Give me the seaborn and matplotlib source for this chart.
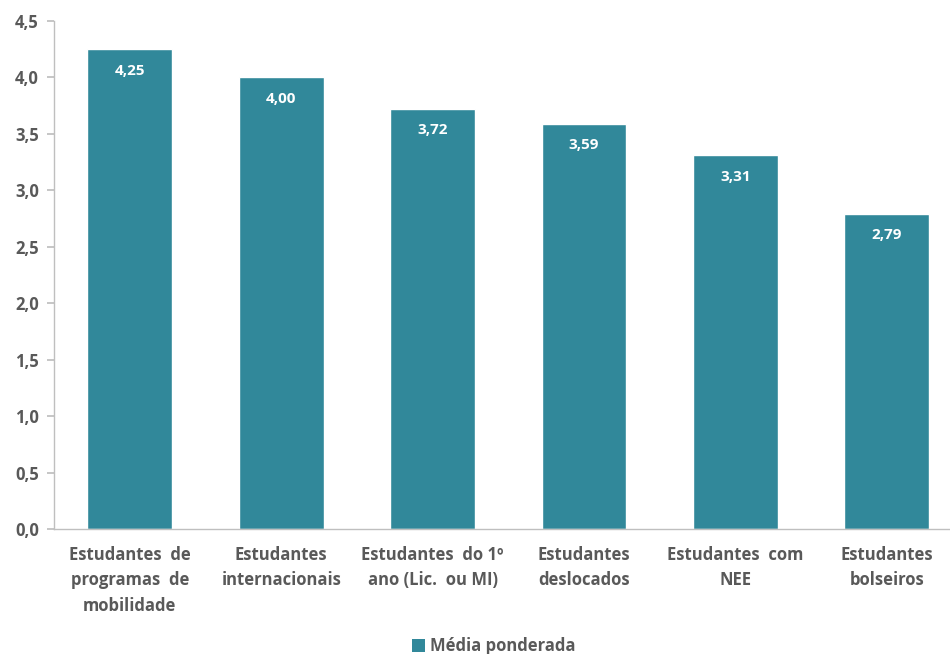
import matplotlib
matplotlib.use("Agg")
import matplotlib.pyplot as plt
import seaborn as sns
import pandas as pd
from matplotlib.patches import Patch

categories = ["Estudantes  de\nprogramas  de\nmobilidade",
              "Estudantes\ninternacionais",
              "Estudantes  do 1º\nano (Lic.  ou MI)",
              "Estudantes\ndeslocados",
              "Estudantes  com\nNEE",
              "Estudantes\nbolseiros"]
values = [4.25, 4.00, 3.72, 3.59, 3.31, 2.79]
yticks = [0.0, 0.5, 1.0, 1.5, 2.0, 2.5, 3.0, 3.5, 4.0, 4.5]
series_name = "Média ponderada"

color = "#31889A"
grey = "#595959"

sns.set_theme(style="white")
plt.rcParams['font.family'] = ['Open Sans', 'DejaVu Sans']

df = pd.DataFrame({"cat": categories, "val": values})
fig = plt.figure(figsize=(9.5, 6.54), dpi=100)
ax = fig.add_axes([0.057, 0.191, 0.956, 0.777])
sns.barplot(data=df, x="cat", y="val", color=color, width=0.56, saturation=1, ax=ax)

ax.set_ylim(0, 4.5)
ax.set_xlim(-0.5, 5.5)
ax.set_yticks(yticks)
ax.set_yticklabels([f"{t:.1f}".replace(".", ",") for t in yticks],
                   fontsize=12, fontweight="bold", color=grey)
ax.set_xticklabels(categories, fontsize=12, fontweight="bold", color=grey, linespacing=1.55)
ax.set_xlabel("")
ax.set_ylabel("")
for s in ["top", "right"]:
    ax.spines[s].set_visible(False)
for s in ["left", "bottom"]:
    ax.spines[s].set_color("#BFBFBF")
    ax.spines[s].set_linewidth(1)
ax.tick_params(axis="y", which="both", left=True, length=5, color="#BFBFBF", pad=6)
ax.tick_params(axis="x", length=0, pad=12)

for i, v in enumerate(values):
    ax.text(i, v - 0.19, f"{v:.2f}".replace(".", ","), ha="center", va="center",
            fontsize=11, fontweight="bold", color="white")

handles = [Patch(facecolor=color, edgecolor="none")]
fig.legend(handles, [series_name], loc="lower center", bbox_to_anchor=(0.52, -0.025),
           frameon=False, handlelength=0.8, handleheight=0.8, handletextpad=0.3,
           prop={"size": 12, "weight": "bold"}, labelcolor=grey)

fig.savefig("out.png", dpi=100)
